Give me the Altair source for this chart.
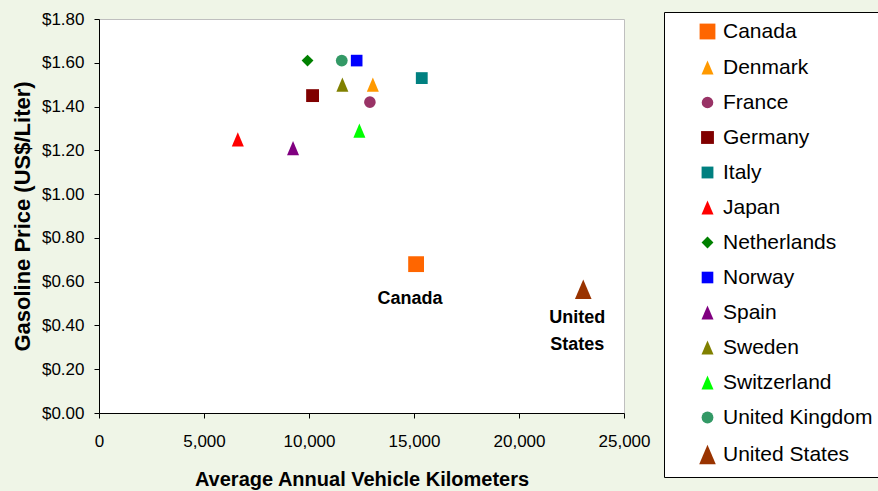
import altair as alt
import pandas as pd

countries = ["Canada", "Denmark", "France", "Germany", "Italy", "Japan", "Netherlands",
             "Norway", "Spain", "Sweden", "Switzerland", "United Kingdom", "United States"]
km = [15100, 13040, 12900, 10170, 15370, 6610, 9930, 12270, 9240, 11590, 12400, 11560, 23060]
price = [0.68, 1.50, 1.42, 1.45, 1.53, 1.25, 1.61, 1.61, 1.21, 1.50, 1.29, 1.61, 0.565]

label_countries = ["Canada", "United States"]
label_texts = ["Canada", "United\nStates"]

x_ticks = [0, 5000, 10000, 15000, 20000, 25000]
y_ticks = [0, 0.2, 0.4, 0.6, 0.8, 1.0, 1.2, 1.4, 1.6, 1.8]

TRI = "M0,-1L0.85,1L-0.85,1Z"
colors = ["#FF6600", "#FF9900", "#993366", "#800000", "#008080", "#FF0000", "#008000",
          "#0000FF", "#800080", "#808000", "#00FF00", "#339966", "#993300"]
shapes = ["square", TRI, "circle", "square", "square", TRI, "diamond",
          "square", TRI, TRI, TRI, "circle", TRI]
sizes = [250, 200, 135, 165, 140, 200, 140, 135, 200, 200, 200, 140, 380]

df = pd.DataFrame({"country": countries, "km": km, "price": price})
lab = pd.DataFrame({"country": label_countries, "text": label_texts}).merge(df, on="country")

FONT = "Liberation Sans"

legend = alt.Legend(
    title=None, orient="none", legendX=565, legendY=-7,
    strokeColor="black", fillColor="white", padding=9,
    symbolOffset=24, labelOffset=5, labelFont=FONT, labelFontSize=21,
    labelColor="black", rowPadding=13, labelLimit=400, symbolOpacity=1,
)

x_enc = alt.X("km:Q", scale=alt.Scale(domain=[0, 25000], nice=False, zero=True),
              axis=alt.Axis(values=x_ticks, format=",.0f", grid=False, domainColor="black",
                            tickColor="black", tickSize=5, labelFont=FONT, labelFontSize=17,
                            labelColor="black", labelPadding=15, labelFlush=False,
                            labelOverlap=False, title="Average Annual Vehicle Kilometers",
                            titleFont=FONT, titleFontSize=20, titleFontWeight="bold",
                            titleColor="black", titlePadding=20))
y_enc = alt.Y("price:Q", scale=alt.Scale(domain=[0, 1.8], nice=False),
              axis=alt.Axis(values=y_ticks, format="$.2f", grid=False, domainColor="black",
                            tickColor="black", tickSize=5, labelFont=FONT, labelFontSize=17,
                            labelColor="black", labelPadding=10, labelFlush=False,
                            labelOverlap=False, title="Gasoline Price (US$/Liter)",
                            titleFont=FONT, titleFontSize=22, titleFontWeight="bold",
                            titleColor="black", titlePadding=7))

points = alt.Chart(df).mark_point(filled=True, opacity=1).encode(
    x=x_enc, y=y_enc,
    color=alt.Color("country:N", scale=alt.Scale(domain=countries, range=colors), legend=legend),
    shape=alt.Shape("country:N", scale=alt.Scale(domain=countries, range=shapes), legend=legend),
    size=alt.Size("country:N", scale=alt.Scale(type="ordinal", domain=countries, range=sizes),
                  legend=legend),
)

txt_can = alt.Chart(lab).transform_filter(alt.datum.country == "Canada").mark_text(
    font=FONT, fontSize=18, fontWeight="bold", color="black", baseline="top",
    align="center", dx=-6, dy=26
).encode(x="km:Q", y="price:Q", text="text:N")

txt_us = alt.Chart(lab).transform_filter(alt.datum.country == "United States").mark_text(
    font=FONT, fontSize=18, fontWeight="bold", color="black", baseline="top",
    align="center", dx=-6, dy=20, lineBreak="\n", lineHeight=27
).encode(x="km:Q", y="price:Q", text="text:N")

chart = alt.layer(points, txt_can, txt_us).properties(
    width=525, height=394,
    padding={"left": 99, "top": 19, "right": 254, "bottom": 78},
    autosize=alt.AutoSizeParams(type="none"),
    background="#EFF5E7",
).configure_view(stroke="#BFBFBF", fill="white")

chart.save("out.html", embed_options={"renderer": "svg", "actions": False})
